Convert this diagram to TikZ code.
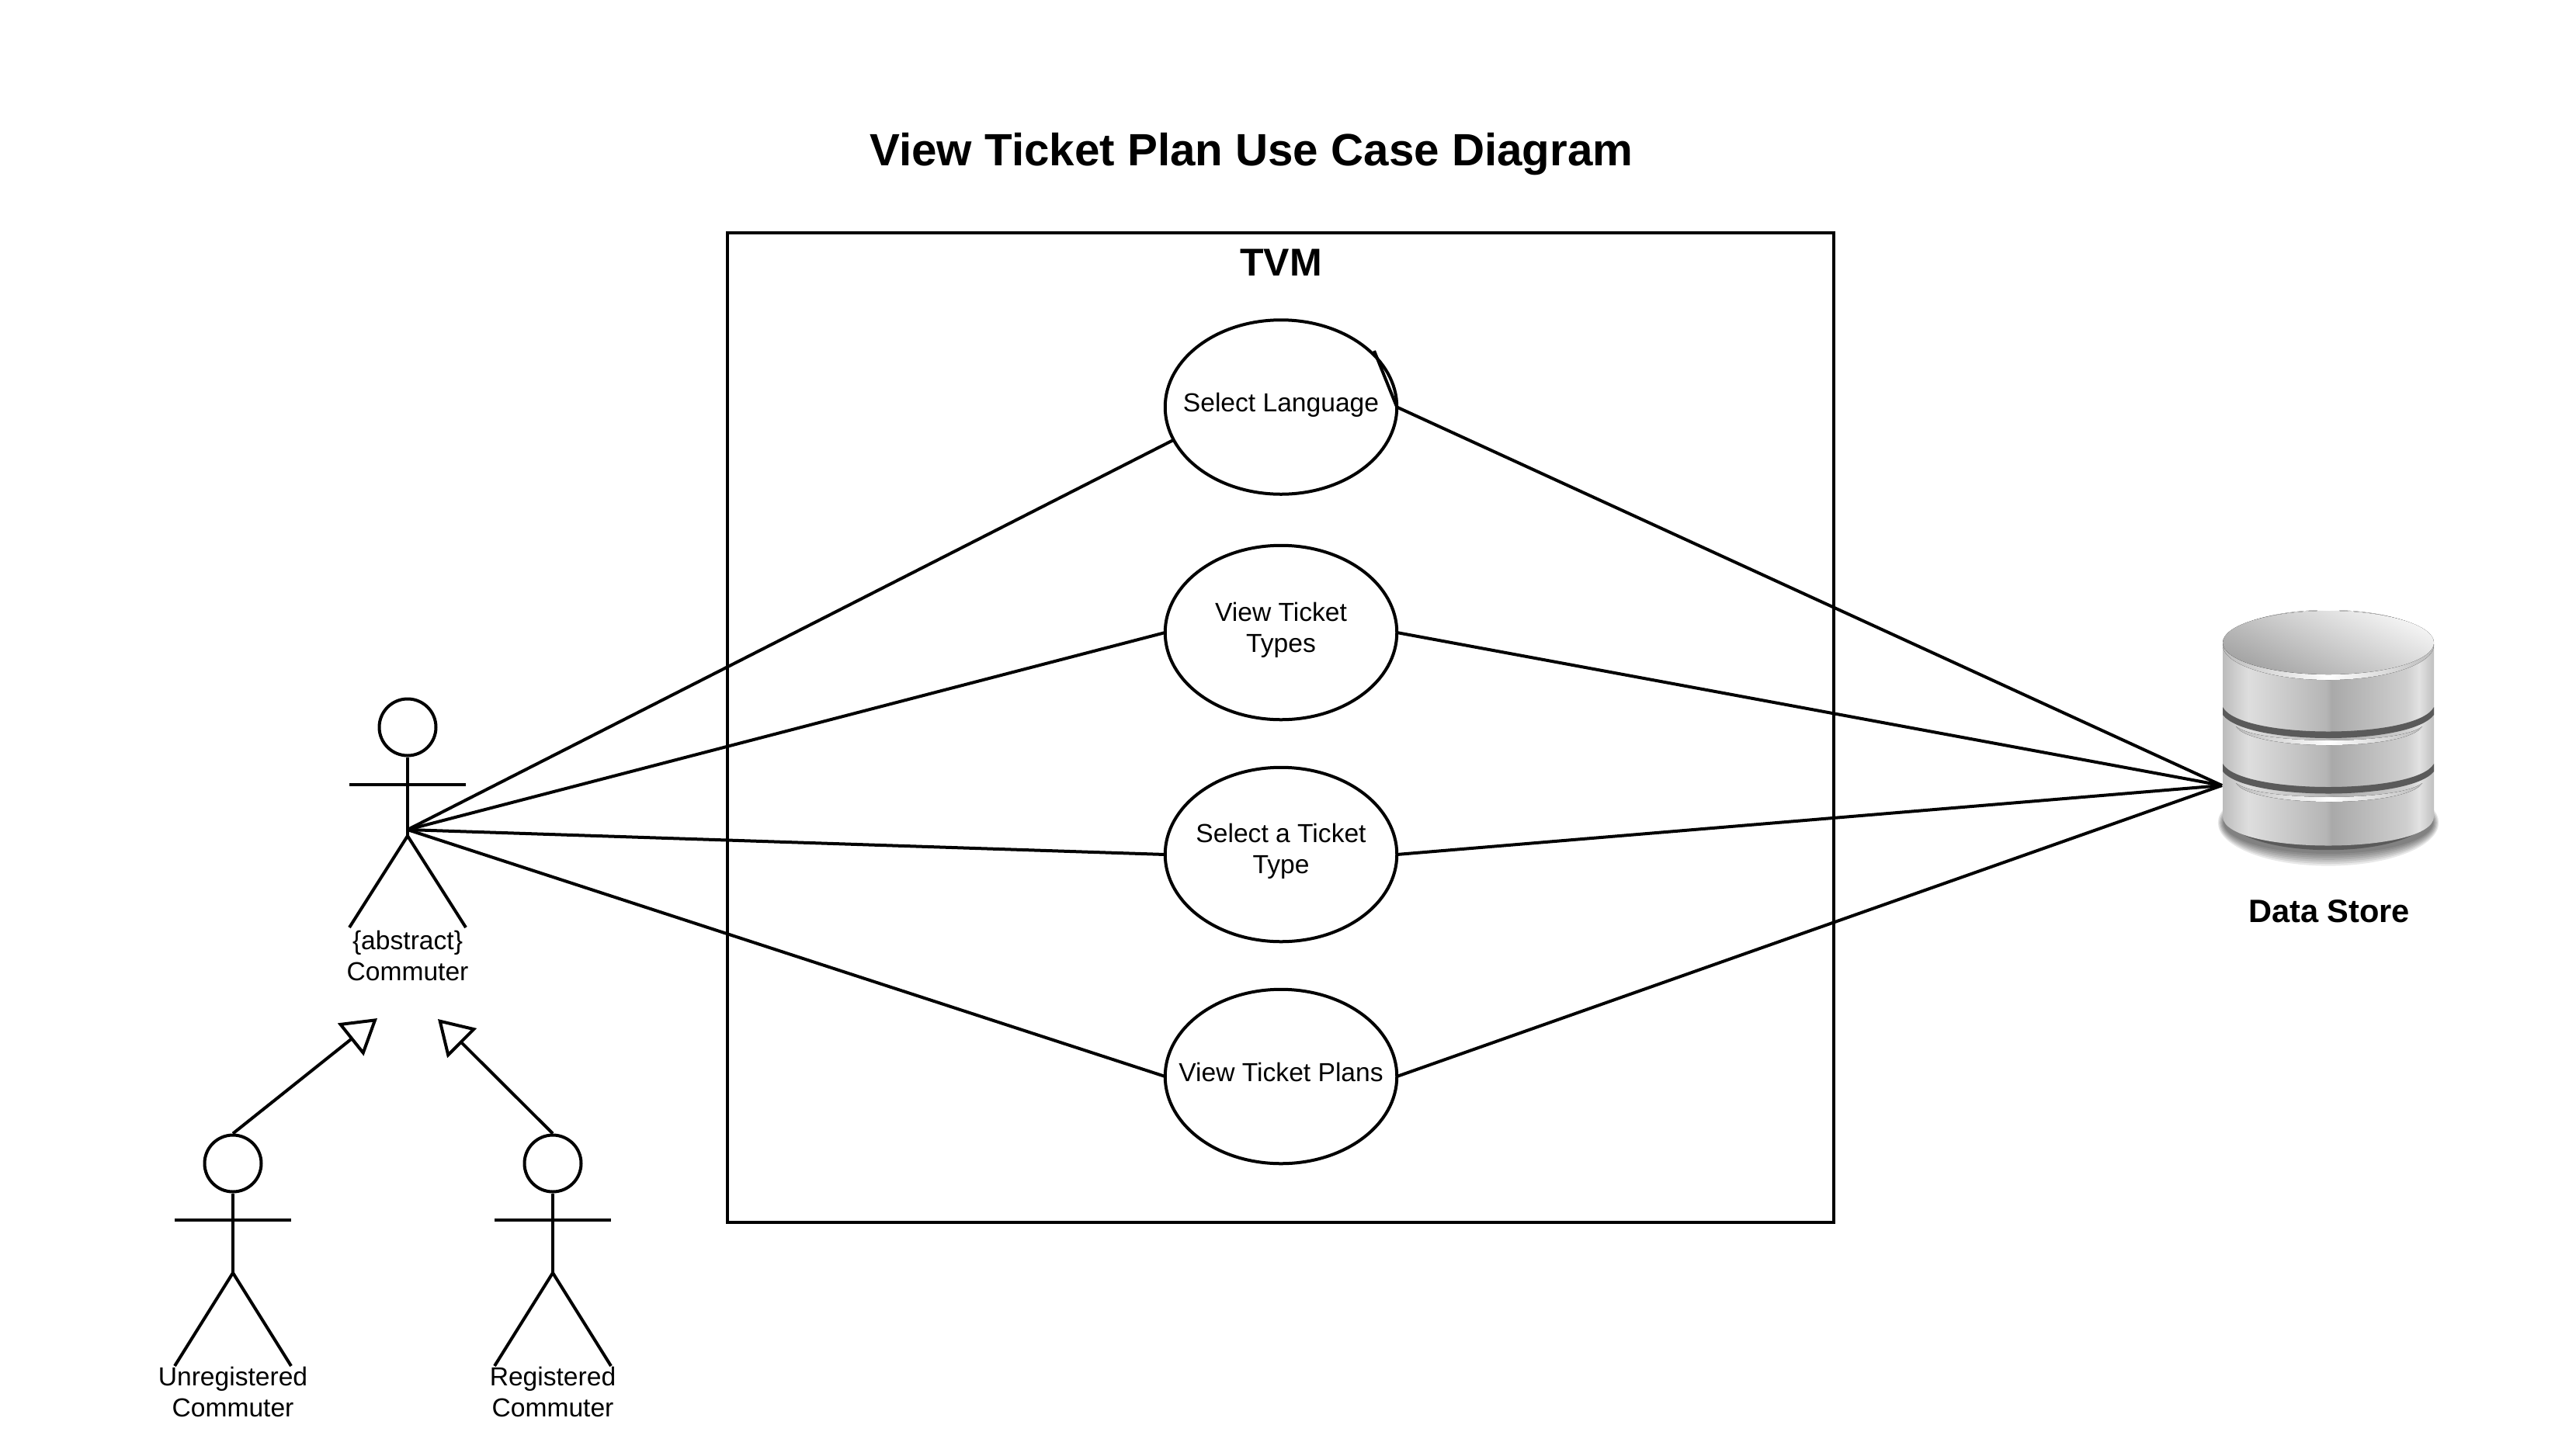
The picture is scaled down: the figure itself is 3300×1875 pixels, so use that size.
\documentclass[tikz,border=0pt]{standalone}
\usepackage{fontspec}
\setmainfont{Liberation Sans}
\usetikzlibrary{arrows.meta,shapes.geometric}
\definecolor{bgA}{HTML}{BCBCBC}
\definecolor{bgB}{HTML}{DEDEDE}
\definecolor{bgC}{HTML}{B5B5B5}
\definecolor{bgD}{HTML}{A9A9A9}
\definecolor{bgE}{HTML}{CFCFCF}
\definecolor{bgF}{HTML}{E2E2E2}
\definecolor{bgG}{HTML}{C0C0C0}
\definecolor{grooveC}{HTML}{5A5A5A}
\pgfdeclarehorizontalshading{bodyshade}{100bp}{
 color(0bp)=(bgA); color(25bp)=(bgA); color(31bp)=(bgB); color(49.5bp)=(bgC);
 color(50.8bp)=(bgD); color(68.5bp)=(bgE); color(71.5bp)=(bgF); color(75bp)=(bgG); color(100bp)=(bgG)}
\newcommand{\szs}{\fontsize{33.6}{40}\selectfont}
\tikzset{
 ln/.style={line width=4pt,draw=black,line cap=butt},
 usecase/.style={ellipse,ln,fill=white,minimum width=298.5pt,minimum height=224.5pt,inner sep=0pt,outer sep=0pt},
 headc/.style={circle,ln,minimum size=73pt,inner sep=0pt,outer sep=2pt},
 actorlabel/.style={inner sep=0pt,align=center,font=\szs},
 gen/.style={ln,-{Triangle[open,length=44pt,width=53pt,line width=4pt]}},
 halo/.style={fill=black,fill opacity=.09,draw=none},
 gloss/.style={left color=bgA,right color=bgA,middle color=white,draw=none}
}
\begin{document}
\begin{tikzpicture}[x=1pt,y=-1pt]
\useasboundingbox (0,0) rectangle (3300,1875);
\fill[white] (0,0) rectangle (3300,1875);

% titles
\node[inner sep=0pt,font=\fontsize{58.3}{66}\selectfont\bfseries] (title) at (1612,199) {View Ticket Plan Use Case Diagram};
\node[ln,minimum width=1425pt,minimum height=1275pt,inner sep=0pt,outer sep=0pt] (tvm) at (1649.5,937) {};
\node[inner sep=0pt,font=\fontsize{50}{58}\selectfont\bfseries] (tvmlabel) at (1650,338) {TVM};

% use cases
\node[usecase] (sl) at (1650,524.5) {};
\node[usecase] (vt) at (1650,815) {};
\node[usecase] (st) at (1650,1101) {};
\node[usecase] (vp) at (1650,1387) {};
\node[actorlabel] (slt) at (1650,522) {Select Language};
\node[actorlabel] (vtt) at (1650,811.5) {View Ticket\\Types};
\node[actorlabel] (stt) at (1650,1096.5) {Select a Ticket\\Type};
\node[actorlabel] (vpt) at (1650,1381) {View Ticket Plans};

% commuter
\node[headc] (ch) at (525,937) {};
\coordinate (cm) at (525,1077);
\coordinate (hub) at (525,1069);
\coordinate (cal) at (450,1011);
\coordinate (car) at (600,1011);
\coordinate (cll) at (450,1195);
\coordinate (clr) at (600,1195);
\draw[ln] (ch.south) -- (cm);
\draw[ln] (cal) -- (car);
\draw[ln] (cll) -- (cm) -- (clr);
\node[actorlabel] (cl) at (525,1231) {\{abstract\}\\Commuter};

% unregistered
\node[headc] (uh) at (300,1499) {};
\coordinate (um) at (300,1640);
\coordinate (ual) at (225,1572);
\coordinate (uar) at (375,1572);
\coordinate (ull) at (225,1760);
\coordinate (ulr) at (375,1760);
\draw[ln] (uh.south) -- (um);
\draw[ln] (ual) -- (uar);
\draw[ln] (ull) -- (um) -- (ulr);
\node[actorlabel] (ul) at (300,1793) {Unregistered\\Commuter};

% registered
\node[headc] (rh) at (712,1499) {};
\coordinate (rm) at (712,1640);
\coordinate (ral) at (637,1572);
\coordinate (rar) at (787,1572);
\coordinate (rll) at (637,1760);
\coordinate (rlr) at (787,1760);
\draw[ln] (rh.south) -- (rm);
\draw[ln] (ral) -- (rar);
\draw[ln] (rll) -- (rm) -- (rlr);
\node[actorlabel] (rl) at (712,1793) {Registered\\Commuter};

% generalisation
\coordinate (gu) at (486,1312);
\coordinate (gr) at (564,1313);
\draw[gen] (uh.north) -- (gu);
\draw[gen] (rh.north) -- (gr);

% data store
\foreach \i in {0,...,6}{
  \fill[halo] (2999,1060) ellipse [x radius={135pt+1.2pt*\i}, y radius={40pt+2.6pt*\i}];
}
\fill[grooveC] (2865,1045) .. controls (2865,1112) and (3133,1112) .. (3133,1045) -- cycle;
\path[shading=bodyshade] (2863,830) -- (2863,1052)
   .. controls (2863,1102) and (3135,1102) .. (3135,1052) -- (3135,830) -- cycle;
% lower rim highlights
\fill[gloss] (2880,936) .. controls (2900,968) and (3100,968) .. (3120,936)
   .. controls (3090,960) and (2910,960) .. (2880,936) -- cycle;
\fill[gloss] (2880,1009) .. controls (2900,1041) and (3100,1041) .. (3120,1009)
   .. controls (3090,1033) and (2910,1033) .. (2880,1009) -- cycle;
% grooves
\fill[grooveC] (2863,911) .. controls (2885,953) and (3113,953) .. (3135,911)
   -- (3135,921) .. controls (3105,961) and (2893,961) .. (2863,921) -- cycle;
\fill[grooveC] (2863,984) .. controls (2885,1024) and (3113,1024) .. (3135,984)
   -- (3135,994) .. controls (3105,1032) and (2893,1032) .. (2863,994) -- cycle;
% top
\fill[gloss] (2999,831) ellipse [x radius=136pt, y radius=45pt];
\fill[left color=white!96!black,right color=black!36,shading angle=-25] (2999,828) ellipse [x radius=136pt, y radius=41pt];
\coordinate (ds) at (2862,1012);
\node[inner sep=0pt,font=\fontsize{41.6}{48}\selectfont\bfseries] (dsl) at (3000,1174) {Data Store};

% connectors
\draw[ln] (hub) -- (sl.197);
\draw[ln] (hub) -- (vt.west);
\draw[ln] (hub) -- (st.west);
\draw[ln] (hub) -- (vp.west);
\coordinate (stub) at (1770,452);
\draw[ln,line join=miter] (ds) -- (sl.east) -- (stub);
\draw[ln] (ds) -- (vt.east);
\draw[ln] (ds) -- (st.east);
\draw[ln] (ds) -- (vp.east);
\end{tikzpicture}
\end{document}
